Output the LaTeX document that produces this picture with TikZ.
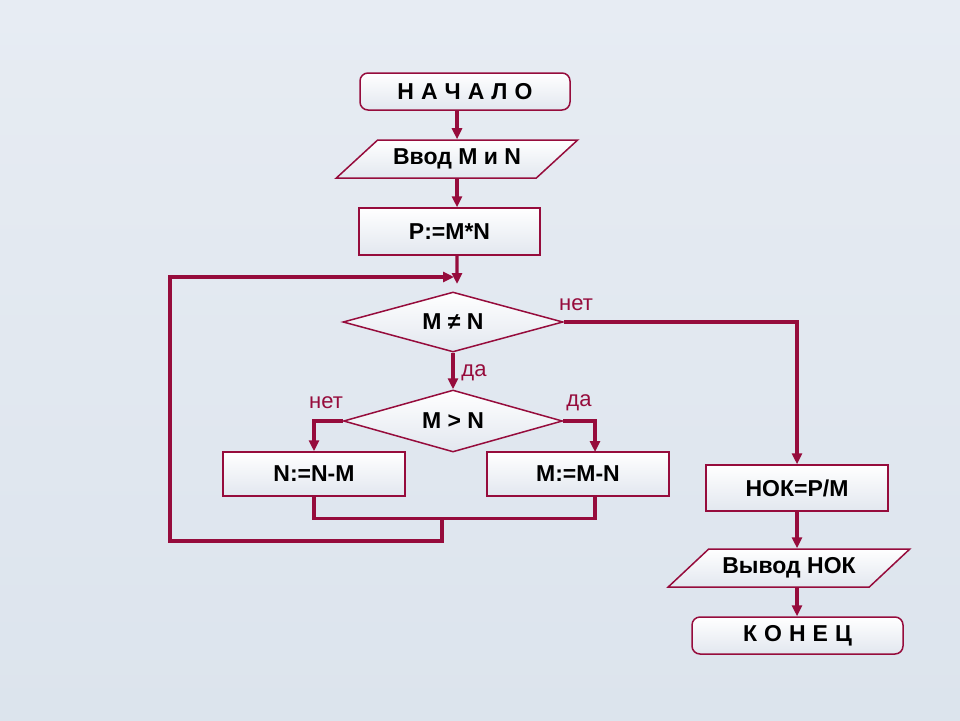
\documentclass[tikz,border=0pt]{standalone}
\usepackage{fontspec}
\setmainfont{Liberation Sans}
\usetikzlibrary{shapes.geometric,arrows.meta}
\definecolor{crim}{RGB}{150,12,60}
\definecolor{bgtop}{RGB}{231,236,243}
\definecolor{bgbot}{RGB}{220,228,237}
\definecolor{boxbot}{RGB}{226,231,239}
\begin{document}
\begin{tikzpicture}[x=1pt,y=-1pt,
  box/.style={draw=crim,line width=1.5pt,top color=white,bottom color=boxbot,inner sep=0pt,
    font=\fontsize{23}{27}\selectfont\bfseries,text=black},
  term/.style={box,rounded corners=8pt},
  io/.style={box,trapezium,trapezium stretches=true,trapezium left angle=31.5,trapezium right angle=148.5},
  dec/.style={box,diamond,aspect=3.6},
  conn/.style={draw=crim,line width=3.4pt},
  arr/.style={conn,-{Triangle[length=11pt,width=10pt]}},
  lbl/.style={text=crim,font=\fontsize{22}{26}\selectfont,inner sep=0pt}
]
\fill[top color=bgtop,bottom color=bgbot] (0,0) rectangle (960,720);
\useasboundingbox (0,0) rectangle (960,720);

\node[term,minimum width=210pt,minimum height=37pt] (start) at (465,91.5)
  {Н\hspace{7pt}А\hspace{7pt}Ч\hspace{7pt}А\hspace{7pt}Л\hspace{7pt}О};
\node[io,minimum width=242pt,minimum height=38pt] (inp) at (457,159) {Ввод M и N};
\node[box,minimum width=181pt,minimum height=47pt] (p) at (449.5,231.5) {P:=M*N};
\node[dec,minimum width=220pt,minimum height=60pt] (d1) at (453,322) {M ≠ N};
\node[dec,minimum width=219pt,minimum height=62pt] (d2) at (453,421) {M > N};
\node[box,minimum width=182pt,minimum height=44pt] (nb) at (314,474) {N:=N-M};
\node[box,minimum width=182pt,minimum height=44pt] (mb) at (578,474) {M:=M-N};
\node[box,minimum width=182pt,minimum height=46pt] (hok) at (797,488) {НОК=P/M};
\node[io,minimum width=242pt,minimum height=38pt] (out) at (789,568) {Вывод НОК};
\node[term,minimum width=211pt,minimum height=37pt] (end) at (797.5,635.5)
  {К\hspace{7pt}О\hspace{7pt}Н\hspace{7pt}Е\hspace{7pt}Ц};

\coordinate (ptip) at (457,284);
\coordinate (mtop) at (595,452);
\coordinate (ja) at (442,518);
\coordinate (jb) at (442,541);
\coordinate (lc) at (170,541);
\coordinate (ltop) at (170,277);
\coordinate (lend) at (454,277);

\draw[arr] (inp.north |- start.south) -- (inp.north);
\draw[arr] (inp.south) -- (inp.south |- p.north);
\draw[arr] (inp.south |- p.south) -- (ptip);
\draw[arr] (d1.east) -| (hok.north);
\draw[arr] (d1.south) -- (d2.north);
\draw[arr] (d2.west) -| (nb.north);
\draw[arr] (d2.east) -| (mtop);
\draw[conn] (nb.south) -- ++(0,22) -| (mtop |- mb.south);
\draw[arr] (ja) -- (jb) -- (lc) -- (ltop) -- (lend);
\draw[arr] (hok.south) -- (hok.south |- out.north);
\draw[arr] (hok.south |- out.south) -- (hok.south |- end.north);

\node[lbl] (l1) at (576,305) {нет};
\node[lbl] (l2) at (474,373) {да};
\node[lbl] (l3) at (326,403) {нет};
\node[lbl] (l4) at (579,403) {да};
\end{tikzpicture}
\end{document}
